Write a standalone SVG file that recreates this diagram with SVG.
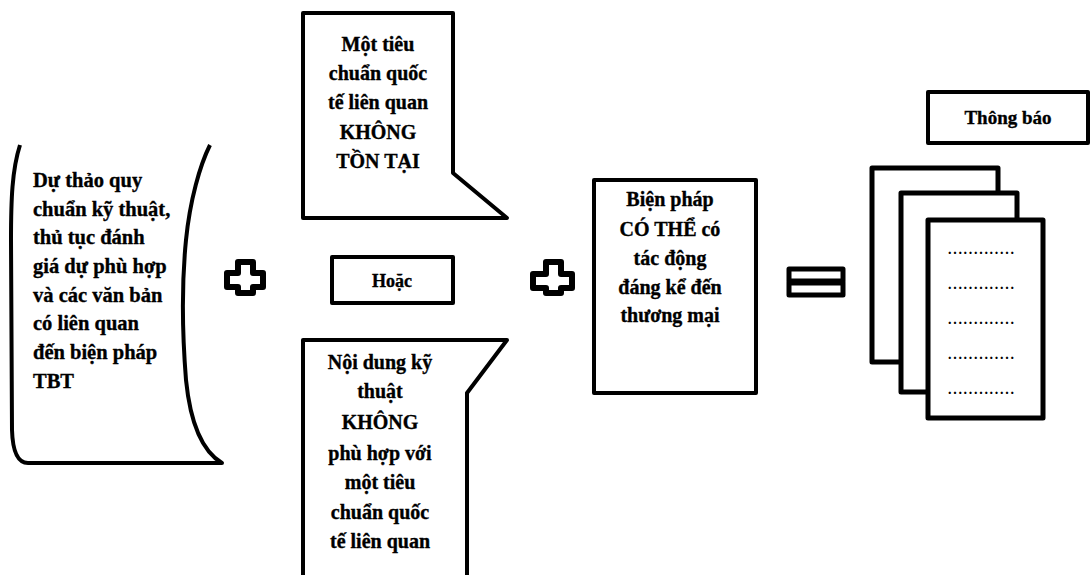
<svg xmlns="http://www.w3.org/2000/svg" width="1092" height="575" viewBox="0 0 1092 575">
<style>
.t{font-family:"Liberation Serif","Times New Roman",serif;font-weight:bold;font-size:20px;fill:#000;stroke:#000;stroke-width:0.35}
.l{font-size:20.5px}
.c{text-anchor:middle}
.b{fill:#fff;stroke:#000;stroke-width:4;stroke-linejoin:round}
.pg{fill:#fff;stroke:#000;stroke-width:5;stroke-linejoin:round}
.d{font-family:"Liberation Serif",serif;font-weight:bold;font-size:14px;fill:#000;letter-spacing:1.7px}
</style>
<rect width="1092" height="575" fill="#fff"/>
<g id="draft">
<path class="b" fill="none" d="M20,145 C12,170 11,200 11,240 L12,430 Q13,463 28,463 L222,463 C200,450 190,420 186,380 C182,330 182,280 186,240 C190,200 200,165 210,145"/>
<text class="t l" x="33" y="187">Dự thảo quy</text>
<text class="t l" x="33" y="216">chuẩn kỹ thuật,</text>
<text class="t l" x="33" y="244">thủ tục đánh</text>
<text class="t l" x="33" y="273">giá dự phù hợp</text>
<text class="t l" x="33" y="302">và các văn bản</text>
<text class="t l" x="33" y="330">có liên quan</text>
<text class="t l" x="33" y="359">đến biện pháp</text>
<text class="t l" x="33" y="388">TBT</text>
</g>
<g id="plus1">
<path class="b" style="stroke-width:6" d="M238,262 H253 V273 H263 V287 H253 V293 H238 V287 H227 V273 H238 Z"/>
</g>
<g id="standard-none">
<path class="b" d="M303,13 H453 V173 L507,218 H303 Z"/>
<text class="t c" x="378" y="51">Một tiêu</text>
<text class="t c" x="378" y="80">chuẩn quốc</text>
<text class="t c" x="378" y="109">tế liên quan</text>
<text class="t c" x="378" y="139">KHÔNG</text>
<text class="t c" x="378" y="168">TỒN TẠI</text>
</g>
<g id="or">
<rect class="b" x="332" y="257" width="121" height="46"/>
<text class="t c" x="392" y="287" style="font-size:18px">Hoặc</text>
</g>
<g id="content-not-conform">
<path class="b" d="M303,580 V340 H507 L467,393 V580"/>
<text class="t c" x="380" y="369">Nội dung kỹ</text>
<text class="t c" x="380" y="398">thuật</text>
<text class="t c" x="380" y="429">KHÔNG</text>
<text class="t c" x="380" y="460">phù hợp với</text>
<text class="t c" x="380" y="489">một tiêu</text>
<text class="t c" x="380" y="519">chuẩn quốc</text>
<text class="t c" x="380" y="548">tế liên quan</text>
</g>
<g id="plus2">
<path class="b" style="stroke-width:6" d="M546,262 H561 V274 H572 V288 H561 V293 H546 V288 H533 V274 H546 Z"/>
</g>
<g id="measure">
<rect class="b" x="594" y="180" width="162" height="213"/>
<text class="t c" x="670" y="206">Biện pháp</text>
<text class="t c" x="670" y="236">CÓ THỂ có</text>
<text class="t c" x="670" y="265">tác động</text>
<text class="t c" x="670" y="294">đáng kể đến</text>
<text class="t c" x="670" y="322">thương mại</text>
</g>
<g id="equals">
<rect class="b" style="stroke-width:5" x="789" y="269" width="54" height="12"/>
<rect class="b" style="stroke-width:5" x="789" y="283" width="54" height="12"/>
</g>
<g id="notification-label">
<rect class="b" x="928" y="92" width="160" height="51"/>
<text class="t c" x="1008" y="124" style="font-size:19px">Thông báo</text>
</g>
<g id="notification-pages">
<rect class="pg" x="872" y="168" width="126" height="194"/>
<rect class="pg" x="901" y="193" width="116" height="199"/>
<rect class="pg" x="928" y="220" width="115" height="198"/>
<text class="d" x="948" y="254">.............</text>
<text class="d" x="948" y="289">.............</text>
<text class="d" x="948" y="324">.............</text>
<text class="d" x="948" y="359">.............</text>
<text class="d" x="948" y="394">.............</text>
</g>
<g id="connectors"></g>
</svg>
